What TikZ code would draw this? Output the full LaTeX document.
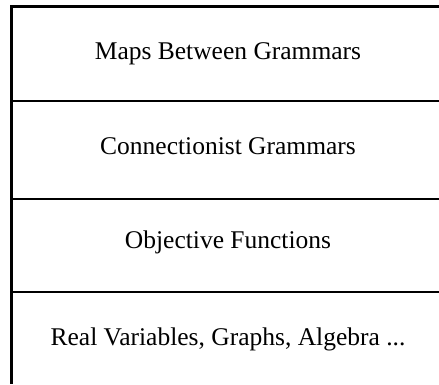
\documentclass[tikz,border=0pt]{standalone}
\usepackage{fontspec}
\setmainfont{Liberation Serif}
\begin{document}
\begin{tikzpicture}[x=1pt,y=-1pt,
  rule/.style={line width=2.2pt,black},
  label/.style={anchor=base,inner sep=0pt,font=\fontsize{25.5}{30}\selectfont}]
\useasboundingbox (0,0) rectangle (439,384);
\draw[rule] (439,6.5) -- (11.5,6.5) -- (11.5,384);
\draw[rule] (11.5,101) -- (439,101);
\draw[rule] (11.5,199) -- (439,199);
\draw[rule] (11.5,292) -- (439,292);
\node[label] (maps) at (228,59) {Maps Between Grammars};
\node[label] (conn) at (228,154) {Connectionist Grammars};
\node[label] (obj) at (228,248) {Objective Functions};
\node[label] (real) at (228,345) {Real Variables, Graphs, Algebra ...};
\end{tikzpicture}
\end{document}
